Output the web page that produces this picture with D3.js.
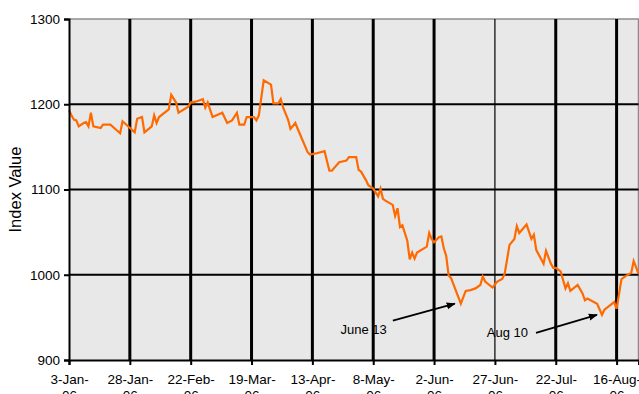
<!DOCTYPE html>
<html>
<head>
<meta charset="utf-8">
<script src="https://cdn.jsdelivr.net/npm/d3@7"></script>
<style>
  html, body { margin: 0; padding: 0; background: #fff; }
  svg { display: block; font-family: "Liberation Sans", Arial, sans-serif; }
</style>
</head>
<body>
<svg id="chart" width="639" height="394"></svg>
<script>
// Daily index closes, Jan - Aug 2006
const dates = [
  "2006-01-03","2006-01-04","2006-01-05","2006-01-06","2006-01-07","2006-01-09","2006-01-10","2006-01-11",
  "2006-01-12","2006-01-13","2006-01-16","2006-01-17","2006-01-20","2006-01-24","2006-01-25","2006-01-30",
  "2006-01-31","2006-02-02","2006-02-03","2006-02-06","2006-02-07","2006-02-08","2006-02-09","2006-02-13",
  "2006-02-14","2006-02-16","2006-02-17","2006-02-21","2006-02-22","2006-02-24","2006-02-27","2006-02-28",
  "2006-03-01","2006-03-03","2006-03-07","2006-03-09","2006-03-11","2006-03-13","2006-03-14","2006-03-16",
  "2006-03-17","2006-03-20","2006-03-21","2006-03-22","2006-03-24","2006-03-27","2006-03-28","2006-03-30",
  "2006-03-31","2006-04-01","2006-04-03","2006-04-04","2006-04-06","2006-04-07","2006-04-11","2006-04-12",
  "2006-04-14","2006-04-18","2006-04-20","2006-04-21","2006-04-24","2006-04-27","2006-04-28","2006-05-01",
  "2006-05-02","2006-05-03","2006-05-05","2006-05-06","2006-05-08","2006-05-10","2006-05-11","2006-05-12",
  "2006-05-13","2006-05-16","2006-05-17","2006-05-18","2006-05-19","2006-05-20","2006-05-22","2006-05-23",
  "2006-05-24","2006-05-25","2006-05-26","2006-05-30","2006-05-31","2006-06-01","2006-06-02","2006-06-04",
  "2006-06-05","2006-06-06","2006-06-07","2006-06-08","2006-06-09","2006-06-13","2006-06-15","2006-06-17",
  "2006-06-19","2006-06-21","2006-06-22","2006-06-23","2006-06-26","2006-06-28","2006-06-30","2006-07-01",
  "2006-07-03","2006-07-05","2006-07-06","2006-07-07","2006-07-10","2006-07-12","2006-07-13","2006-07-14",
  "2006-07-17","2006-07-18","2006-07-20","2006-07-21","2006-07-22","2006-07-24","2006-07-26","2006-07-27",
  "2006-07-28","2006-07-31","2006-08-02","2006-08-03","2006-08-04","2006-08-08","2006-08-10","2006-08-11",
  "2006-08-15","2006-08-16","2006-08-18","2006-08-20","2006-08-22","2006-08-23","2006-08-24","2006-08-25"
];
const values = [
  1193,1187,1182,1181,1174,1178,1179,1174,
  1190,1174,1172,1176,1176,1166,1180,1167,
  1183,1185,1167,1174,1187,1178,1185,1194,
  1211,1202,1190,1197,1202,1203,1206,1196,
  1202,1185,1190,1178,1181,1190,1176,1176,
  1185,1185,1181,1187,1228,1223,1201,1201,
  1206,1196,1182,1171,1178,1171,1144,1141,
  1142,1145,1122,1122,1132,1134,1138,1138,
  1123,1121,1111,1105,1101,1092,1101,1089,
  1087,1082,1069,1078,1056,1058,1040,1018,
  1026,1019,1026,1033,1049,1042,1038,1044,
  1045,1031,1022,999,996,966,981,982,
  984,988,998,992,985,992,995,1001,
  1035,1042,1057,1049,1059,1042,1047,1029,
  1013,1028,1013,1008,1008,1004,984,990,
  981,988,978,970,972,966,953,959,
  968,960,995,999,1002,1016,1009,1001
];

const xDomain = ["2006-01-03", "2006-08-25"];
const yDomain = [900, 1300];
const yTicks = [900, 1000, 1100, 1200, 1300];
const xTickLabels = ["3-Jan-06","28-Jan-06","22-Feb-06","19-Mar-06","13-Apr-06",
                     "8-May-06","2-Jun-06","27-Jun-06","22-Jul-06","16-Aug-06"];
const notes = [
  { text: "June 13", date: "2006-06-13" },
  { text: "Aug 10",  date: "2006-08-10" }
];

const parseISO = d3.utcParse("%Y-%m-%d");
const parseTick = d3.utcParse("%d-%b-%y");
const series = dates.map((d, i) => ({ date: parseISO(d), value: values[i] }));
const tickDates = xTickLabels.map(parseTick);

const plot = { left: 69, right: 638.5, top: 19, bottom: 360 };

const x = d3.scaleUtc().domain(xDomain.map(parseISO)).range([plot.left, plot.right]);
const y = d3.scaleLinear().domain(yDomain).range([plot.bottom, plot.top]);

const svg = d3.select("#chart");

// plot background
svg.append("rect")
  .attr("x", plot.left).attr("y", plot.top)
  .attr("width", plot.right - plot.left).attr("height", plot.bottom - plot.top)
  .attr("fill", "#e8e8e8");

// frame: top and right edges in grey
svg.append("line")
  .attr("x1", plot.left).attr("x2", plot.right + 0.5)
  .attr("y1", plot.top).attr("y2", plot.top)
  .attr("stroke", "#8c8c8c").attr("stroke-width", 1.5);
svg.append("line")
  .attr("x1", plot.right).attr("x2", plot.right)
  .attr("y1", plot.top).attr("y2", plot.bottom)
  .attr("stroke", "#8c8c8c").attr("stroke-width", 1.5);

// horizontal gridlines
svg.append("g").selectAll("line")
  .data(yTicks.filter(v => v > yDomain[0] && v < yDomain[1]))
  .join("line")
  .attr("x1", plot.left).attr("x2", plot.right)
  .attr("y1", d => y(d)).attr("y2", d => y(d))
  .attr("stroke", "#000").attr("stroke-width", 2);

// vertical gridlines
svg.append("g").selectAll("line")
  .data(tickDates.slice(1))
  .join("line")
  .attr("x1", d => x(d)).attr("x2", d => x(d))
  .attr("y1", plot.top).attr("y2", plot.bottom)
  .attr("stroke", "#000")
  .attr("stroke-width", (d, i) => xTickLabels[i + 1] === "27-Jun-06" ? 1.2 : 3);

// series line
const line = d3.line().x(d => x(d.date)).y(d => y(d.value));
svg.append("path")
  .datum(series)
  .attr("d", line)
  .attr("fill", "none")
  .attr("stroke", "#ff6a00")
  .attr("stroke-width", 2.2)
  .attr("stroke-linejoin", "miter");

// y axis
const yAxis = svg.append("g")
  .attr("transform", `translate(${plot.left},0)`)
  .call(d3.axisLeft(y).tickValues(yTicks).tickSize(5).tickPadding(4).tickFormat(d3.format("d")));
yAxis.select(".domain").attr("stroke", "#000").attr("stroke-width", 2);
yAxis.selectAll(".tick line").attr("stroke", "#000").attr("stroke-width", 2);
yAxis.selectAll(".tick text")
  .attr("font-size", 13.5).attr("fill", "#000")
  .attr("font-family", "Liberation Sans, Arial, sans-serif");

// x axis
const xAxis = svg.append("g")
  .attr("transform", `translate(0,${plot.bottom})`)
  .call(d3.axisBottom(x).tickValues(tickDates).tickSize(5).tickFormat(""));
xAxis.select(".domain").attr("stroke", "#000").attr("stroke-width", 2);
xAxis.selectAll(".tick line").attr("stroke", "#000").attr("stroke-width", 2);
xAxis.selectAll(".tick").each(function (d, i) {
  const label = xTickLabels[i];
  const cut = label.lastIndexOf("-") + 1;
  const t = d3.select(this).append("text")
    .attr("fill", "#000")
    .attr("font-size", 13.5)
    .attr("font-family", "Liberation Sans, Arial, sans-serif")
    .attr("text-anchor", "middle");
  t.append("tspan").attr("x", 0).attr("y", 24).text(label.slice(0, cut));
  t.append("tspan").attr("x", 0).attr("y", 40).text(label.slice(cut));
});

// axis title
svg.append("text")
  .attr("transform", `translate(21,${(plot.top + plot.bottom) / 2}) rotate(-90)`)
  .attr("text-anchor", "middle")
  .attr("font-size", 16.5)
  .attr("fill", "#000")
  .text("Index Value");

// annotations with arrows to the lows
svg.append("defs").append("marker")
  .attr("id", "head")
  .attr("viewBox", "0 0 10 10")
  .attr("refX", 9).attr("refY", 5)
  .attr("markerWidth", 5).attr("markerHeight", 5)
  .attr("orient", "auto")
  .append("path").attr("d", "M0,1 L10,5 L0,9 Z").attr("fill", "#000");

const noteLayout = [
  { dx: -6, dy: 0, lx: -68, ly: 17, textX: -74, textY: 30 },
  { dx: -5, dy: 0, lx: -66, ly: 18, textX: -74, textY: 22 }
];
notes.forEach((n, i) => {
  const d = parseISO(n.date);
  const v = values[dates.indexOf(n.date)];
  const px = x(d), py = y(v);
  const L = noteLayout[i];
  svg.append("line")
    .attr("x1", px + L.lx).attr("y1", py + L.ly)
    .attr("x2", px + L.dx).attr("y2", py + L.dy)
    .attr("stroke", "#000").attr("stroke-width", 1.8)
    .attr("marker-end", "url(#head)");
  svg.append("text")
    .attr("x", px + L.textX).attr("y", py + L.textY)
    .attr("text-anchor", "end")
    .attr("font-size", 13)
    .attr("fill", "#000")
    .text(n.text);
});
</script>
</body>
</html>
